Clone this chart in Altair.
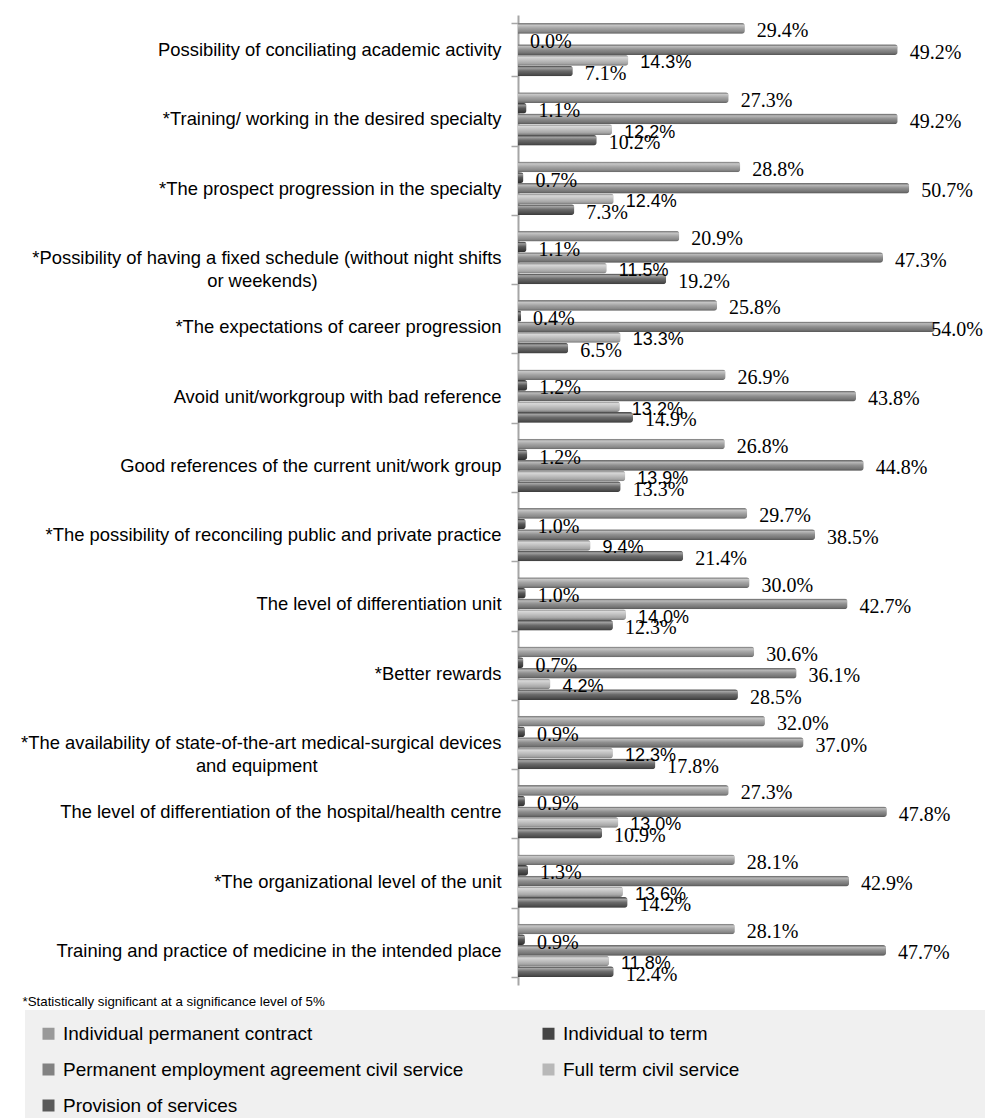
import altair as alt
import pandas as pd

categories = [
    "Possibility of conciliating academic activity",
    "*Training/ working in the desired specialty",
    "*The prospect progression in the specialty",
    "*Possibility of having a fixed schedule (without night shifts or weekends)",
    "*The expectations of career progression",
    "Avoid unit/workgroup with bad reference",
    "Good references of the current unit/work group",
    "*The possibility of reconciling public and private practice",
    "The level of differentiation unit",
    "*Better rewards",
    "*The availability of state-of-the-art medical-surgical devices and equipment",
    "The level of differentiation of the hospital/health centre",
    "*The organizational level of the unit",
    "Training and practice of medicine in the intended place",
]

series = [
    "Individual permanent contract",
    "Individual to term",
    "Permanent employment agreement civil service",
    "Full term civil service",
    "Provision of services",
]

individual_permanent = [29.4, 27.3, 28.8, 20.9, 25.8, 26.9, 26.8, 29.7, 30.0, 30.6, 32.0, 27.3, 28.1, 28.1]
individual_term = [0.0, 1.1, 0.7, 1.1, 0.4, 1.2, 1.2, 1.0, 1.0, 0.7, 0.9, 0.9, 1.3, 0.9]
permanent_civil = [49.2, 49.2, 50.7, 47.3, 54.0, 43.8, 44.8, 38.5, 42.7, 36.1, 37.0, 47.8, 42.9, 47.7]
full_term_civil = [14.3, 12.2, 12.4, 11.5, 13.3, 13.2, 13.9, 9.4, 14.0, 4.2, 12.3, 13.0, 13.6, 11.8]
provision = [7.1, 10.2, 7.3, 19.2, 6.5, 14.9, 13.3, 21.4, 12.3, 28.5, 17.8, 10.9, 14.2, 12.4]

colors = ["#999999", "#454545", "#828282", "#b8b8b8", "#5a5a5a"]

footnote = "*Statistically significant at a significance level of 5%"

# two-line category labels (second line centred under the first)
wrapped = {
    categories[3]: ["*Possibility of having a fixed schedule (without night shifts", "or weekends)"],
    categories[10]: ["*The availability of state-of-the-art medical-surgical devices", "and equipment"],
}

NB = "\u00a0"
ZW = "\u200b"
label_expr = "datum.label"
for full, lines in wrapped.items():
    l2 = lines[1] + NB * 36 + ZW
    label_expr = f"datum.label == '{full}' ? ['{lines[0]}', '{l2}'] : (" + label_expr + ")"

legend_expr = "datum.label == 'Full term civil service' ? datum.label + '" + NB * 44 + ZW + "' : datum.label"

rows = []
for i, c in enumerate(categories):
    for s, vals in zip(series, [individual_permanent, individual_term, permanent_civil, full_term_civil, provision]):
        rows.append({"category": c, "series": s, "value": vals[i]})
df = pd.DataFrame(rows)

y_enc = alt.Y(
    "category:N",
    sort=categories,
    scale=alt.Scale(paddingInner=0.23, paddingOuter=0.115),
    axis=alt.Axis(
        title=None,
        labelExpr=label_expr,
        labelFont="Liberation Sans",
        labelFontSize=18.4,
        labelColor="#000000",
        labelLimit=600,
        labelPadding=10,
        labelLineHeight=23,
        domainColor="#a6a6a6",
        domainWidth=2,
        tickColor="#a6a6a6",
        tickWidth=1.5,
        tickSize=7,
        tickBand="extent",
        grid=False,
    ),
)
yoff = alt.YOffset("series:N", sort=series, scale=alt.Scale(domain=series))
x_enc = alt.X(
    "value:Q",
    scale=alt.Scale(domain=[0, 60], nice=False, zero=True),
    axis=alt.Axis(
        labels=False, ticks=False, domain=False, grid=False,
        title=footnote, titleX=-496, titleY=9, titleAlign="left",
        titleBaseline="top", titleFont="Liberation Sans", titleFontSize=13.3,
        titleFontWeight="normal", titleColor="#000000",
    ),
)
x_lab = alt.X("lx:Q", scale=alt.Scale(domain=[0, 60], nice=False, zero=True))

base = alt.Chart(df).mark_bar(cornerRadiusEnd=3).encode(
    x=x_enc,
    y=y_enc,
    yOffset=yoff,
    color=alt.Color(
        "series:N",
        sort=series,
        scale=alt.Scale(domain=series, range=colors),
        legend=alt.Legend(
            title=None,
            orient="none",
            direction="horizontal",
            legendX=-493,
            legendY=995,
            columns=2,
            symbolType="square",
            symbolSize=144,
            symbolStrokeWidth=0,
            labelFont="Liberation Sans",
            labelFontSize=19,
            labelColor="#000000",
            labelLimit=900,
            labelOffset=5,
            labelExpr=legend_expr,
            fillColor="#f0f0f0",
            padding=14,
            rowPadding=16,
            columnPadding=75,
        ),
    ),
)

gradient = alt.LinearGradient(
    gradient="linear",
    x1=0, y1=0, x2=0, y2=1,
    stops=[
        alt.GradientStop(color="rgba(0,0,0,0.15)", offset=0),
        alt.GradientStop(color="rgba(255,255,255,0.45)", offset=0.2),
        alt.GradientStop(color="rgba(255,255,255,0.1)", offset=0.5),
        alt.GradientStop(color="rgba(0,0,0,0.1)", offset=0.8),
        alt.GradientStop(color="rgba(0,0,0,0.35)", offset=1),
    ],
)

shine = alt.Chart(df).mark_bar(cornerRadiusEnd=3, color=gradient).encode(
    x=x_enc, y=y_enc, yOffset=yoff
)

label_base = alt.Chart(df).transform_calculate(
    label="format(datum.value, '.1f') + '%'",
    lx="min(datum.value, 52)",
)

labels_serif = label_base.transform_filter(
    "datum.series != 'Full term civil service'"
).mark_text(
    align="left", baseline="middle", dx=12, dy=3,
    font="Liberation Serif", fontSize=20, color="#000000"
).encode(x=x_lab, y=y_enc, yOffset=yoff, text="label:N")

labels_sans = label_base.transform_filter(
    "datum.series == 'Full term civil service'"
).mark_text(
    align="left", baseline="middle", dx=12, dy=3,
    font="Liberation Sans", fontSize=18, color="#000000"
).encode(x=x_lab, y=y_enc, yOffset=yoff, text="label:N")

chart = alt.layer(base, shine, labels_serif, labels_sans).properties(
    width=463,
    height=970,
    padding={"left": 518, "top": 15, "right": 4, "bottom": 133},
    autosize=alt.AutoSizeParams(type="none"),
).configure(background="white").configure_view(stroke="transparent", strokeWidth=0)

chart.save("out.html", embed_options={"renderer": "svg", "actions": False})
